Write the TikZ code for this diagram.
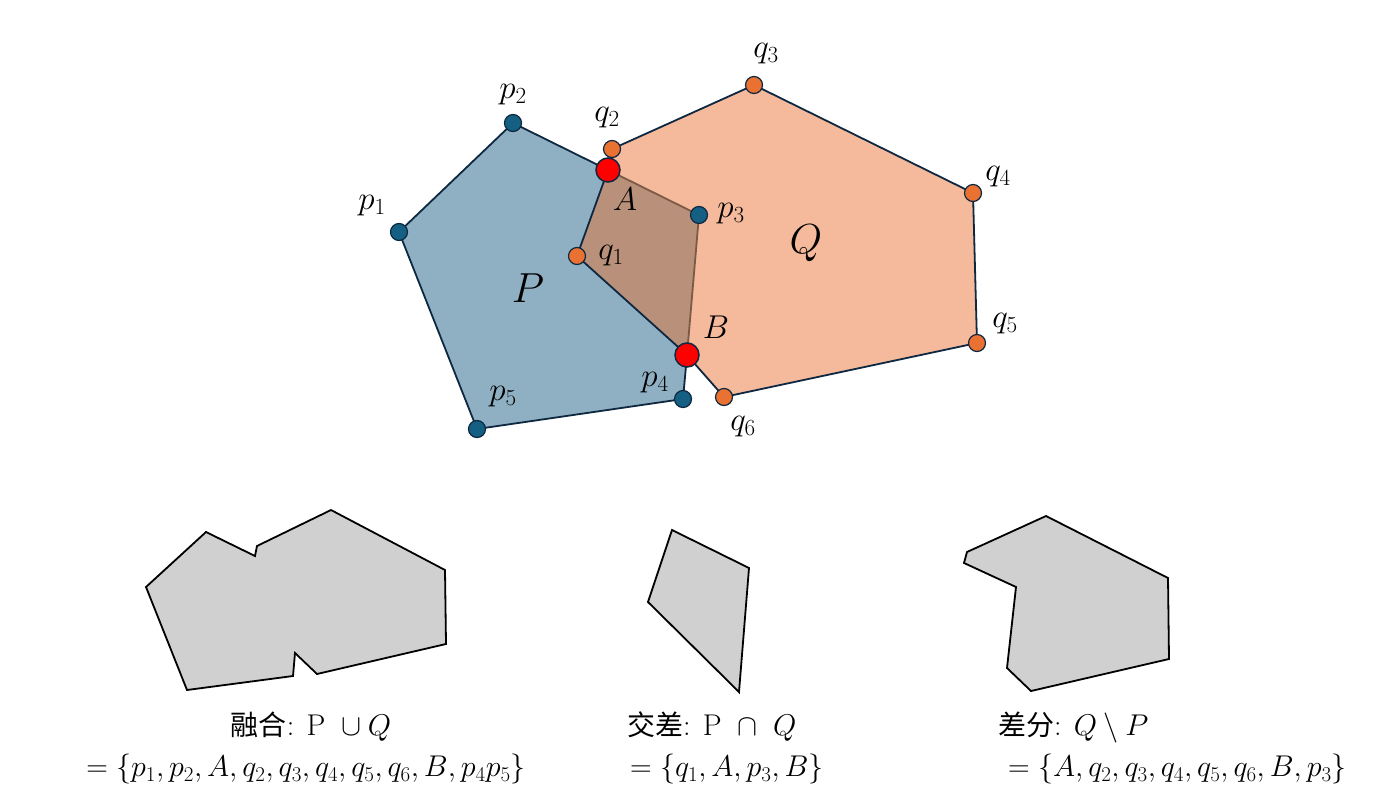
\RequirePackage{fix-cm}
\documentclass[tikz,border=0pt]{standalone}
\usepackage{fontspec}
\newfontfamily\cjk{Noto Sans CJK SC}
\definecolor{pblue}{HTML}{8FB0C2}
\definecolor{qorange}{HTML}{F5B99B}
\definecolor{interc}{HTML}{B9907A}
\definecolor{edgec}{HTML}{0E2841}
\definecolor{dotblue}{HTML}{156082}
\definecolor{dotorange}{HTML}{E97132}
\definecolor{brownedge}{HTML}{7B5A46}
\definecolor{shapegray}{HTML}{D0D0D0}
\tikzset{
  outl/.style={draw=edgec, line width=1.8pt, line join=round},
  bdot/.style={circle, fill=dotblue, draw=edgec, line width=1.2pt, minimum size=17pt, inner sep=0pt},
  odot/.style={circle, fill=dotorange, draw=edgec, line width=1.2pt, minimum size=17pt, inner sep=0pt},
  rdot/.style={circle, fill=red, draw=edgec, line width=1.5pt, minimum size=24pt, inner sep=0pt},
  lbl/.style={font=\fontsize{33}{36}\selectfont, inner sep=0pt},
  biglbl/.style={font=\fontsize{42}{46}\selectfont, inner sep=0pt},
  gshape/.style={fill=shapegray, draw=black, line width=1.8pt, line join=miter},
  txt/.style={font=\fontsize{30}{34}\selectfont, inner sep=0pt, anchor=west}
}
\newcommand{\cj}[1]{{\cjk\fontsize{28}{32}\selectfont #1}}
\begin{document}
\begin{tikzpicture}[x=1pt,y=-1pt]
\useasboundingbox (0,0) rectangle (1400,798);
% coordinates
\coordinate (p1) at (399,232);
\coordinate (p2) at (513,123);
\coordinate (A) at (608,170);
\coordinate (p3) at (699,215);
\coordinate (B) at (687,355);
\coordinate (p4) at (683,399);
\coordinate (p5) at (477,429);
\coordinate (q1) at (577,256);
\coordinate (q2) at (612,149);
\coordinate (q3) at (754,85);
\coordinate (q4) at (973,193);
\coordinate (q5) at (977,343);
\coordinate (q6) at (724,397);
% fills
\fill[pblue] (p1) -- (p2) -- (A) -- (p3) -- (B) -- (p4) -- (p5) -- cycle;
\fill[qorange] (q1) -- (A) -- (q2) -- (q3) -- (q4) -- (q5) -- (q6) -- (B) -- cycle;
\fill[interc] (q1) -- (A) -- (p3) -- (B) -- cycle;
% outlines
\draw[outl, draw=brownedge] (A) -- (p3) -- (B);
\draw[outl] (B) -- (p4) -- (p5) -- (p1) -- (p2) -- (A);
\draw[outl] (q1) -- (A) -- (q2) -- (q3) -- (q4) -- (q5) -- (q6) -- (B) -- cycle;
% dots
\node[bdot] (dp1) at (p1) {};
\node[bdot] (dp2) at (p2) {};
\node[bdot] (dp3) at (p3) {};
\node[bdot] (dp4) at (p4) {};
\node[bdot] (dp5) at (p5) {};
\node[odot] (dq1) at (q1) {};
\node[odot] (dq2) at (q2) {};
\node[odot] (dq3) at (q3) {};
\node[odot] (dq4) at (q4) {};
\node[odot] (dq5) at (q5) {};
\node[odot] (dq6) at (q6) {};
\node[rdot] (dA) at (A) {};
\node[rdot] (dB) at (B) {};
% labels
\node[lbl] (lp1) at (372,206) {$p_1$};
\node[lbl] (lp2) at (513,95) {$p_2$};
\node[lbl] (lp3) at (731,214) {$p_3$};
\node[lbl] (lp4) at (655,383) {$p_4$};
\node[lbl] (lp5) at (503,397) {$p_5$};
\node[lbl] (lq1) at (611,256) {$q_1$};
\node[lbl] (lq2) at (607,118) {$q_2$};
\node[lbl] (lq3) at (766,54) {$q_3$};
\node[lbl] (lq4) at (998,177) {$q_4$};
\node[lbl] (lq5) at (1005,324) {$q_5$};
\node[lbl] (lq6) at (743,427) {$q_6$};
\node[lbl] (lA) at (625,199) {$A$};
\node[lbl] (lB) at (716,327) {$B$};
\node[biglbl] (lP) at (528,288) {$P$};
\node[biglbl] (lQ) at (806,243) {$Q$};
% result shapes
\draw[gshape] (146,587) -- (206,532) -- (255,556) -- (257,546) -- (331,510) -- (445,570) -- (446,644) -- (317,674) -- (295,653) -- (293,676) -- (187,690) -- cycle;
\draw[gshape] (672,530) -- (749,568) -- (739,692) -- (648,602) -- cycle;
\draw[gshape] (967,552) -- (1046,516) -- (1168,578) -- (1169,659) -- (1031,691) -- (1007,668) -- (1016,587) -- (964,563) -- cycle;
% captions
\node[txt, anchor=center] (u1) at (311,727) {\cj{融合}: $\mathrm{P}\ \cup Q$};
\node[txt, anchor=center] (u2) at (306,769) {$=\{p_1,p_2,A,q_2,q_3,q_4,q_5,q_6,B,p_4p_5\}$};
\node[txt] (i1) at (627,727) {\cj{交差}: $\mathrm{P}\ \cap\ Q$};
\node[txt] (i2) at (630,769) {$=\{q_1,A,p_3,B\}$};
\node[txt] (d1) at (998,727) {\cj{差分}: $Q\setminus P$};
\node[txt] (d2) at (1008,769) {$=\{A,q_2,q_3,q_4,q_5,q_6,B,p_3\}$};
\end{tikzpicture}
\end{document}
